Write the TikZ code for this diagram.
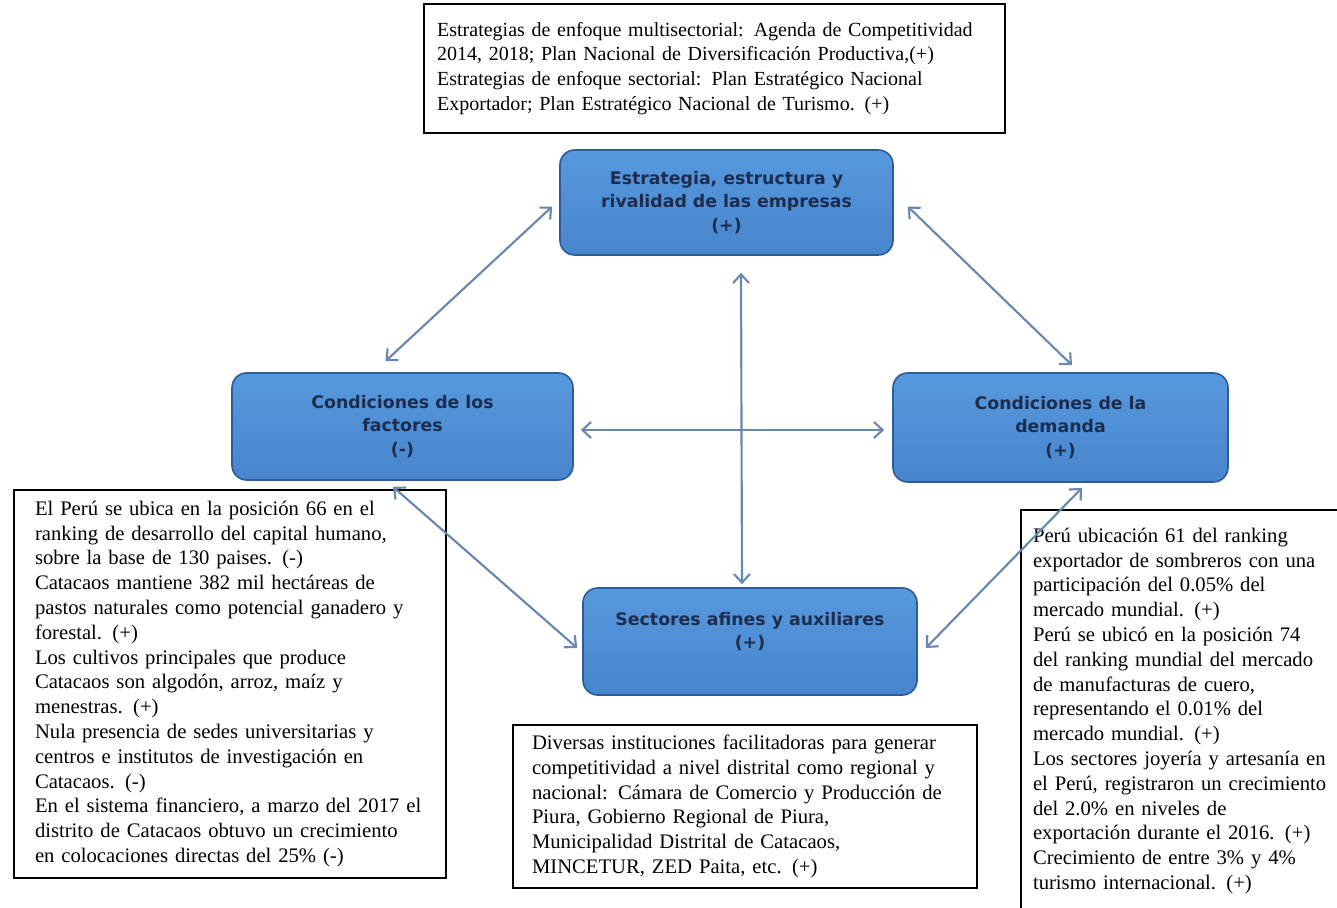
\documentclass[tikz,border=0pt]{standalone}
\usepackage{fontspec}
\setmainfont{Liberation Serif}
\newfontfamily\factorfont{DejaVu Sans}
\usetikzlibrary{arrows.meta}
\hyphenpenalty=10000
\definecolor{factorfill}{HTML}{4785CC}
\definecolor{factortop}{HTML}{5799DE}
\definecolor{factoredge}{HTML}{2D5C96}
\definecolor{factorink}{HTML}{1E2C4E}
\definecolor{linkblue}{HTML}{6888B0}

\begin{document}
\begin{tikzpicture}[x=0.75pt,y=-0.75pt,
  factor/.style={rounded corners=11pt, draw=factoredge, line width=1.2pt,
    top color=factortop, bottom color=factorfill, text=factorink,
    font=\factorfont\bfseries\fontsize{13}{17.3}\selectfont,
    align=center, inner sep=0pt},
  note/.style={draw=black, line width=0.9pt, fill=white,
    font=\fontsize{15.5}{18.6}\selectfont, align=left, inner sep=0pt},
  link/.style={draw=linkblue, line width=1.6pt,
    {Straight Barb[length=6.5pt,width=12pt]}-{Straight Barb[length=6.5pt,width=12pt]}}
]
\useasboundingbox (0,0) rectangle (1337,907);
\fill[white] (0,0) rectangle (1337,907);
\clip (0,0) rectangle (1337,907);

% the four determinants of the diamond
\node[factor, minimum width=249.75pt, minimum height=78.75pt] (strat) at (726.5,202.5)
  {Estrategia, estructura y\\rivalidad de las empresas\\(+)};
\node[factor, minimum width=255.75pt, minimum height=80.25pt] (factores) at (402.5,426.5)
  {Condiciones de los\\factores\\(-)};
\node[factor, minimum width=251.25pt, minimum height=81.75pt] (demanda) at (1060.5,427.5)
  {Condiciones de la\\demanda\\(+)};
\node[factor, minimum width=250.5pt, minimum height=80.25pt] (sectores) at (750,641.5)
  {Sectores afines y auxiliares\\(+)\\\mbox{}};

% explanatory notes
\node[note, font=\fontsize{15}{18.6}\selectfont, minimum width=435.75pt, minimum height=96.75pt, text width=416pt] (notestrat) at (714.5,68.5)
  {Estrategias de enfoque multisectorial: Agenda de Competitividad\\
   2014, 2018; Plan Nacional de Diversificación Productiva,(+)\\
   Estrategias de enfoque sectorial: Plan Estratégico Nacional\\
   Exportador; Plan Estratégico Nacional de Turismo. (+)};

\node[note, minimum width=324pt, minimum height=291pt, text width=292.5pt] (notefact) at (230,684)
  {El Perú se ubica en la posición 66 en el\\
   ranking de desarrollo del capital humano,\\
   sobre la base de 130 paises. (-)\\
   Catacaos mantiene 382 mil hectáreas de\\
   pastos naturales como potencial ganadero y\\
   forestal. (+)\\
   Los cultivos principales que produce\\
   Catacaos son algodón, arroz, maíz y\\
   menestras. (+)\\
   Nula presencia de sedes universitarias y\\
   centros e institutos de investigación en\\
   Catacaos. (-)\\
   En el sistema financiero, a marzo del 2017 el\\
   distrito de Catacaos obtuvo un crecimiento\\
   en colocaciones directas del 25\% (-)};

\node[note, minimum width=348pt, minimum height=122.25pt, text width=319.5pt] (notesect) at (745,806.5)
  {Diversas instituciones facilitadoras para generar\\
   competitividad a nivel distrital como regional y\\
   nacional: Cámara de Comercio y Producción de\\
   Piura, Gobierno Regional de Piura,\\
   Municipalidad Distrital de Catacaos,\\
   MINCETUR, ZED Paita, etc. (+)};

\node[note, minimum width=243pt, minimum height=301.5pt, text width=225pt] (notedem) at (1183,711)
  {Perú ubicación 61 del ranking\\
   exportador de sombreros con una\\
   participación del 0.05\% del\\
   mercado mundial. (+)\\
   Perú se ubicó en la posición 74\\
   del ranking mundial del mercado\\
   de manufacturas de cuero,\\
   representando el 0.01\% del\\
   mercado mundial. (+)\\
   Los sectores joyería y artesanía en\\
   el Perú, registraron un crecimiento\\
   del 2.0\% en niveles de\\
   exportación durante el 2016. (+)\\
   Crecimiento de entre 3\% y 4\%\\
   turismo internacional. (+)};

% mutual influences between the determinants
\draw[link] ([shift={(-7,4)}]strat.west) -- ([shift={(-17,-11)}]factores.north);
\draw[link] ([shift={(14,4)}]strat.east) -- ([shift={(11.5,-7)}]demanda.north);
\draw[link] ([shift={(14.5,17)}]strat.south) -- ([shift={(-8,-3)}]sectores.north);
\draw[link] ([shift={(7,3.5)}]factores.east) -- ([shift={(-8,2.5)}]demanda.west);
\draw[link] ([shift={(-9.5,6)}]factores.south) -- ([shift={(-5,6.5)}]sectores.west);
\draw[link] ([shift={(21.5,5)}]demanda.south) -- ([shift={(8,6.5)}]sectores.east);
\end{tikzpicture}
\end{document}
